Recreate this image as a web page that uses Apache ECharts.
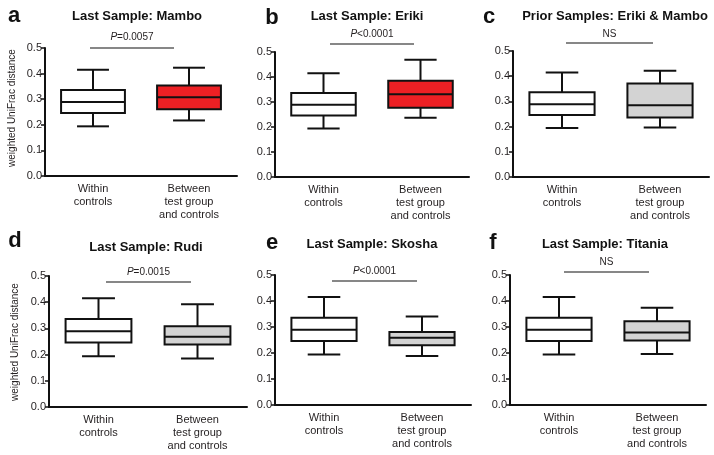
<!DOCTYPE html>
<html><head><meta charset="utf-8">
<script src="https://cdn.jsdelivr.net/npm/echarts@6/dist/echarts.min.js"></script>
<style>html,body{margin:0;padding:0;background:#fff}#c{width:714px;height:455px}</style>
</head><body><div id="c"></div>
<script>
// categories
const categories = ['Within\ncontrols', 'Between\ntest group\nand controls'];
const yTicks = [0.0, 0.1, 0.2, 0.3, 0.4, 0.5];
// box stats: [min, Q1, median, Q3, max]
const controls   = [0.194, 0.246, 0.289, 0.336, 0.415];
const mamboLast  = [0.217, 0.261, 0.308, 0.354, 0.423];
const erikiLast  = [0.237, 0.277, 0.331, 0.385, 0.469];
const priorEM    = [0.196, 0.236, 0.285, 0.371, 0.422];
const rudiLast   = [0.185, 0.239, 0.268, 0.308, 0.392];
const skoshaLast = [0.188, 0.230, 0.259, 0.281, 0.340];
const titaniaLast= [0.196, 0.248, 0.279, 0.322, 0.374];
const panelLetters = ['a','b','c','d','e','f'];
const panelTitles = ['Last Sample: Mambo','Last Sample: Eriki','Prior Samples: Eriki & Mambo','Last Sample: Rudi','Last Sample: Skosha','Last Sample: Titania'];
const pLabels = [['P','=0.0057'],['P','<0.0001'],['','NS'],['P','=0.0015'],['P','<0.0001'],['','NS']];
const testGroups = [mamboLast, erikiLast, priorEM, rudiLast, skoshaLast, titaniaLast];
const testFills = ['#ed2024','#ed2024','#d3d3d3','#d3d3d3','#d3d3d3','#d3d3d3'];

const FONT = 'Liberation Sans, Arial, sans-serif';
const TXT = '#231f20';
const grids = [
  {left:45, top:48, width:192, height:128},
  {left:275, top:52, width:194, height:125},
  {left:513, top:51, width:196, height:126},
  {left:49, top:276, width:198, height:131},
  {left:275, top:275, width:196, height:130},
  {left:510, top:275, width:196, height:130}
];
const letterPos = [[14,16],[272,18],[489,17],[15,241],[272,243],[493,243]];
const titlePos = [[137,16],[367,16],[615,16],[146,247],[372,244],[605,244]];
const bracket = [[90,174,48],[330,414,44],[566,653,43],[106,191,282],[332,417,281],[564,649,272]];
const pTextY = [37,34,34,272,271,262];

function renderBox(fill){
  return function(params, api){
    const x = api.value(0);
    const pMin = api.coord([x, api.value(1)]);
    const pQ1 = api.coord([x, api.value(2)]);
    const pMed = api.coord([x, api.value(3)]);
    const pQ3 = api.coord([x, api.value(4)]);
    const pMax = api.coord([x, api.value(5)]);
    const bw = api.size([1, 0])[0] * 0.665;
    const cx = pMin[0];
    const hw = bw / 2, cw = bw / 4;
    const col = x === 0 ? '#ffffff' : fill;
    const ls = {stroke:'#111', lineWidth:2};
    return {type:'group', children:[
      {type:'line', shape:{x1:cx, y1:pQ3[1], x2:cx, y2:pMax[1]}, style:ls},
      {type:'line', shape:{x1:cx-cw, y1:pMax[1], x2:cx+cw, y2:pMax[1]}, style:ls},
      {type:'line', shape:{x1:cx, y1:pQ1[1], x2:cx, y2:pMin[1]}, style:ls},
      {type:'line', shape:{x1:cx-cw, y1:pMin[1], x2:cx+cw, y2:pMin[1]}, style:ls},
      {type:'rect', shape:{x:cx-hw, y:pQ3[1], width:bw, height:pQ1[1]-pQ3[1]}, style:{fill:col, stroke:'#111', lineWidth:2}},
      {type:'line', shape:{x1:cx-hw, y1:pMed[1], x2:cx+hw, y2:pMed[1]}, style:ls}
    ]};
  };
}

const option = {
  animation:false,
  backgroundColor:'#fff',
  grid: grids,
  xAxis: grids.map((g,i)=>({
    type:'category', gridIndex:i, data:categories,
    axisLine:{lineStyle:{color:'#111', width:2}},
    axisTick:{alignWithLabel:true, length:4, lineStyle:{color:'#111', width:1.5}},
    axisLabel:{fontFamily:FONT, fontSize:11, color:TXT, lineHeight:13, margin:6, interval:0}
  })),
  yAxis: grids.map((g,i)=>({
    type:'value', gridIndex:i, min:yTicks[0], max:yTicks[yTicks.length-1], interval:0.1,
    axisLine:{show:true, lineStyle:{color:'#111', width:2}},
    axisTick:{show:true, length:4, lineStyle:{color:'#111', width:1.5}},
    splitLine:{show:false},
    axisLabel:{fontFamily:FONT, fontSize:11, color:TXT, margin:3, formatter:v=>v.toFixed(1)}
  })),
  series: testGroups.map((tg,i)=>({
    type:'custom', xAxisIndex:i, yAxisIndex:i,
    renderItem: renderBox(testFills[i]),
    encode:{x:0, y:[1,2,3,4,5]},
    data:[[0].concat(controls),[1].concat(tg)]
  })),
  graphic: [].concat(
    panelLetters.map((l,i)=>({type:'text', x:letterPos[i][0], y:letterPos[i][1],
      style:{text:l, font:'bold 22px '+FONT, fill:'#111', textAlign:'center', textVerticalAlign:'middle'}})),
    panelTitles.map((t,i)=>({type:'text', x:titlePos[i][0], y:titlePos[i][1],
      style:{text:t, font:'bold 13px '+FONT, fill:'#111', textAlign:'center', textVerticalAlign:'middle'}})),
    bracket.map((b)=>({type:'line', shape:{x1:b[0], y1:b[2], x2:b[1], y2:b[2]}, style:{stroke:'#111', lineWidth:1.2}})),
    pLabels.map((p,i)=>({type:'text', x:(bracket[i][0]+bracket[i][1])/2, y:pTextY[i],
      style:{text:(p[0]?'{i|'+p[0]+'}':'')+'{n|'+p[1]+'}', textAlign:'center', textVerticalAlign:'middle',
        rich:{i:{fontFamily:FONT, fontSize:10, fontStyle:'italic', fill:TXT}, n:{fontFamily:FONT, fontSize:10, fill:TXT}}}})),
    [{type:'text', x:12, y:108, rotation:Math.PI/2, style:{text:'weighted UniFrac distance', font:'10px '+FONT, fill:TXT, textAlign:'center', textVerticalAlign:'middle'}},
     {type:'text', x:15, y:342, rotation:Math.PI/2, style:{text:'weighted UniFrac distance', font:'10px '+FONT, fill:TXT, textAlign:'center', textVerticalAlign:'middle'}}]
  )
};
const chart = echarts.init(document.getElementById('c'), null, {renderer:'canvas'});
chart.setOption(option);
</script>
</body></html>
